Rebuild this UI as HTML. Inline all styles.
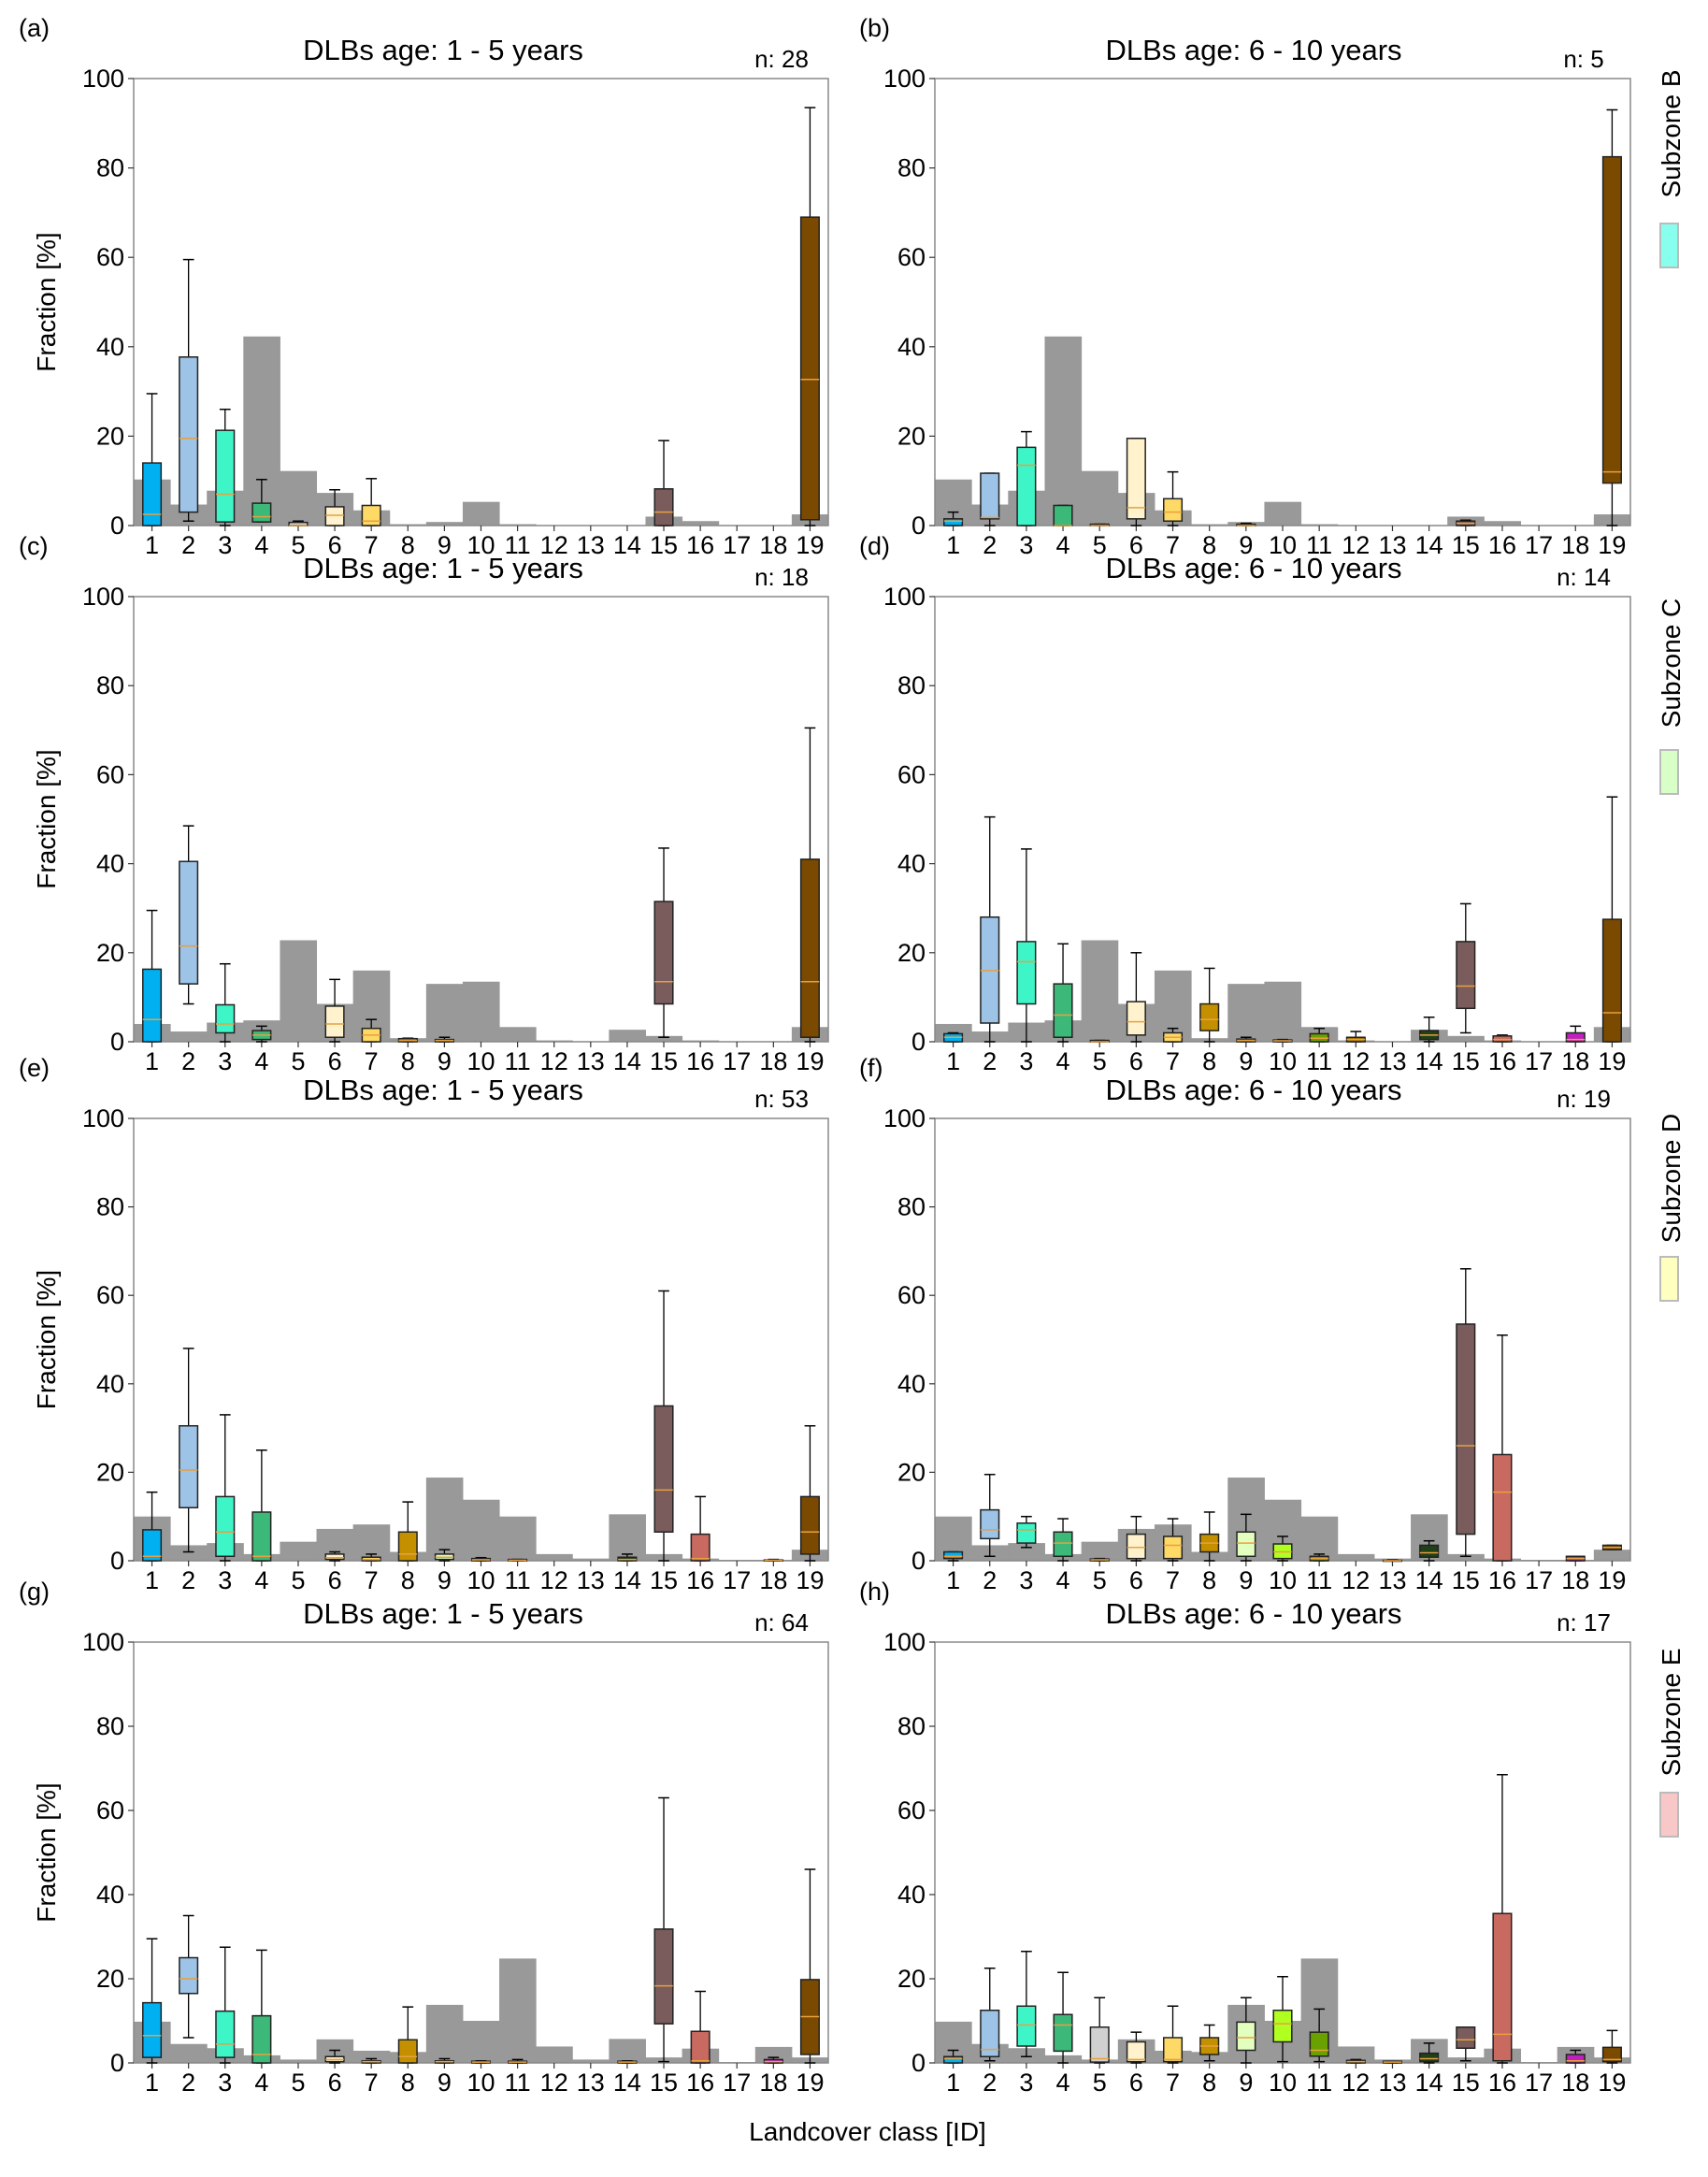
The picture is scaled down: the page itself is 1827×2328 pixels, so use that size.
<!DOCTYPE html>
<html><head><meta charset="utf-8">
<style>
html,body{margin:0;padding:0;background:#fff;}
svg text{font-family:"Liberation Sans",sans-serif;fill:#000;}
</style></head>
<body>
<svg id="fig" width="1827" height="2323" viewBox="0 0 1827 2323" xmlns="http://www.w3.org/2000/svg"></svg>
<script>
const classes=[1,2,3,4,5,6,7,8,9,10,11,12,13,14,15,16,17,18,19];
const yTicks=[0,20,40,60,80,100];
const classColors=["#00b0f0","#9dc3e6","#3ef5c8","#3cb878","#d0d0d0","#fff2cc","#ffd966","#c49000","#e2ffc0","#b0ff20","#6aa000","#a07000","#806040","#204018","#7a5c5c","#c86a60","#999999","#c020c0","#7a4a00"];
const greyB=[10.3,4.7,7.8,42.3,12.2,7.3,3.4,0.3,0.8,5.3,0.3,0.1,0.1,0.1,2,1,0.1,0.1,2.5];
const greyC=[4,2.3,4.3,4.8,22.8,8.5,16,0.8,13,13.5,3.3,0.3,0.1,2.7,1.3,0.3,0.1,0.1,3.3];
const greyD=[10,3.5,4,1.5,4.3,7.2,8.2,2,18.8,13.8,10,1.5,0.5,10.5,1.5,0.5,0.2,0.2,2.5];
const greyE=[9.8,4.5,3.5,1.8,0.8,5.6,2.9,2.6,13.8,10,24.8,3.9,0.8,5.7,1.3,3.4,0.2,3.8,1.3];
// [class, q1, median, q3, whiskerLow, whiskerHigh]
const boxesA=[[1,0,2.5,14,0,29.5],[2,3,19.5,37.7,1,59.5],[3,0.8,7,21.3,0,26],[4,0.8,2,5,0.8,10.3],[5,0,0,0.7,0,1],[6,0,2.3,4.2,0,8],[7,0,1,4.5,0,10.5],[15,0,3,8.2,0,19],[19,1.3,32.7,69,0,93.5]];
const boxesB=[[1,0,1,1.5,0,3],[2,1.5,1.8,11.7,0,11.7],[3,0,13.5,17.5,0,21],[4,0,0,4.5,0,4.5],[5,0,0,0.3,0,0.3],[6,1.5,4,19.5,0,19.5],[7,1,3,6,0,12],[9,0,0,0.3,0,0.5],[15,0,0.5,1,0,1.2],[19,9.5,12,82.5,0,93]];
const boxesC=[[1,0,5,16.3,0,29.5],[2,13,21.5,40.5,8.5,48.5],[3,2,4,8.3,0,17.5],[4,0.5,1.5,2.5,0,3.5],[6,1,4,8,0,14],[7,0,1.5,3,0,5],[8,0,0.3,0.7,0,0.8],[9,0,0.3,0.5,0,1],[15,8.5,13.5,31.5,1,43.5],[19,1,13.5,41,0,70.5]];
const boxesD=[[1,0,1,1.8,0,2],[2,4.2,16,28,0,50.5],[3,8.5,18,22.5,0,43.3],[4,1,6,13,0,22],[5,0,0,0.3,0,0.3],[6,1.5,4.5,9,0,20],[7,0,1,2,0,3],[8,2.5,5,8.5,0,16.5],[9,0,0.3,0.6,0,1],[10,0,0.2,0.4,0,0.5],[11,0,0.8,1.8,0,3],[12,0,0.5,1,0,2.3],[14,0.5,1.5,2.5,0,5.5],[15,7.5,12.5,22.5,2,31],[16,0,0.5,1.3,0,1.5],[18,0,0.5,2,0,3.5],[19,0,6.5,27.5,0,55]];
const boxesE=[[1,0,1,7,0,15.5],[2,12,20.5,30.5,2,48],[3,1,6.5,14.5,0,33],[4,0,1,11,0,25],[6,0.3,0.7,1.5,0,2],[7,0,0.3,0.8,0,1.5],[8,0,1.5,6.5,0,13.3],[9,0.3,0.8,1.5,0,2.5],[10,0,0.2,0.5,0,0.7],[11,0,0.1,0.3,0,0.3],[14,0,0.3,0.8,0,1.5],[15,6.5,16,35,0,61],[16,0,0.5,6,0,14.5],[18,0,0.1,0.2,0,0.3],[19,1.5,6.5,14.5,0,30.5]];
const boxesF=[[1,0.5,1,2,0,2],[2,5,7,11.5,1,19.5],[3,4,7,8.5,3,10],[4,1,4,6.5,0,9.5],[5,0,0.2,0.4,0,0.5],[6,0.5,3,6,0,10],[7,0.5,3.5,5.5,0,9.5],[8,2,4,6,0,11],[9,1,4,6.5,0,10.5],[10,0.5,2,3.8,0,5.5],[11,0,0.5,1,0,1.5],[13,0,0,0.1,0,0.2],[14,0.8,1.8,3.5,0,4.5],[15,6,26,53.5,1,66],[16,0,15.5,24,0,51],[18,0,0.5,1,0,1],[19,2.5,3,3.5,2.5,3.5]];
const boxesG=[[1,1.3,6.5,14.3,0,29.5],[2,16.5,20,25,6,35],[3,1.3,4.5,12.3,0,27.5],[4,0,2,11.2,0,26.8],[6,0.3,0.8,1.5,0,3],[7,0,0.3,0.5,0,1],[8,0,1.5,5.5,0,13.3],[9,0,0.3,0.5,0,1],[10,0,0.2,0.4,0,0.5],[11,0,0.2,0.4,0,0.8],[14,0,0.2,0.4,0,0.5],[15,9.3,18.3,31.8,0.3,63],[16,0,0.5,7.5,0,17],[18,0,0.3,0.8,0,1.3],[19,2,11,19.8,0,46]];
const boxesH=[[1,0,1,1.5,0,3],[2,1.5,3.2,12.5,0.5,22.5],[3,4,9,13.5,1.5,26.5],[4,2.8,9,11.5,0,21.5],[5,0.2,1,8.5,0,15.5],[6,0.3,0.8,5,0,7.3],[7,0.3,0.8,6,0,13.5],[8,2,4,6,0.5,9],[9,3,6,9.7,0,15.5],[10,5,9.3,12.5,0.3,20.5],[11,1.6,3,7.3,0.3,12.8],[12,0,0.3,0.6,0,0.8],[13,0,0.2,0.4,0,0.4],[14,0.3,1,2.3,0,4.7],[15,3.5,5.5,8.5,0.5,8.5],[16,0.5,6.8,35.5,0,68.5],[18,0,0.5,2,0,3],[19,0.3,0.8,3.7,0,7.7]];
const panelLetters=["(a)","(b)","(c)","(d)","(e)","(f)","(g)","(h)"];
const panelTitles=["DLBs age: 1 - 5 years","DLBs age: 6 - 10 years"];
const panelN=["n: 28","n: 5","n: 18","n: 14","n: 53","n: 19","n: 64","n: 17"];
const subzones=["Subzone B","Subzone C","Subzone D","Subzone E"];
const subzoneColors=["#88ffee","#d8ffc8","#ffffc0","#f8c8c8"];

const NS="http://www.w3.org/2000/svg";
const svg=document.getElementById('fig');
function mk(tag,attrs,parent){const e=document.createElementNS(NS,tag);for(const k in attrs)e.setAttribute(k,attrs[k]);(parent||svg).appendChild(e);return e;}

const greys=[greyB,greyC,greyD,greyE];
const boxes=[boxesA,boxesB,boxesC,boxesD,boxesE,boxesF,boxesG,boxesH];
const rowTop=[84,638,1196,1756], rowBot=[562,1114,1669,2206];
const colL=[143,1000], colR=[886,1744];
const titleX=[474,1341];

for(let p=0;p<8;p++){
  const r=Math.floor(p/2), c=p%2;
  const L=colL[c],R=colR[c],T=rowTop[r],B=rowBot[r];
  const g=mk('g',{});
  
  
  const xs=v=>L+(v-0.5)*(R-L)/19;
  const ys=v=>B-v*(B-T)/100;
  const cw=(R-L)/19;
  greys[r].forEach((v,i)=>{
    const rect=mk('rect',{x:xs(classes[i]-0.5),y:ys(v),width:cw+0.5,height:B-ys(v),fill:'#999999'},g);
    
    
  });
  const fr=mk('rect',{x:L,y:T,width:R-L,height:B-T,fill:'none',stroke:'#888',"stroke-width":1.5},g);
  
  
  yTicks.forEach(t=>{
    mk('line',{x1:L-6,x2:L,y1:ys(t),y2:ys(t),stroke:'#333',"stroke-width":1.2},g);
    const tx=mk('text',{x:L-10,y:ys(t)+9,"text-anchor":"end","font-size":27},g);
    tx.textContent=t;
    
    
  });
  classes.forEach(k=>{
    mk('line',{x1:xs(k),x2:xs(k),y1:B,y2:B+6,stroke:'#333',"stroke-width":1.2},g);
    const tx=mk('text',{x:xs(k),y:B+30,"text-anchor":"middle","font-size":27},g);
    tx.textContent=k;
    
    
  });
  boxes[p].forEach(b=>{
    const [k,q1,med,q3,lo,hi]=b;
    const cx=xs(k),bw=cw*0.5,cap=cw*0.3;
    const bg=mk('g',{},g);
    
    
    mk('line',{x1:cx,x2:cx,y1:ys(hi),y2:ys(q3),stroke:'#000',"stroke-width":1.3},bg);
    mk('line',{x1:cx,x2:cx,y1:ys(lo),y2:ys(q1),stroke:'#000',"stroke-width":1.3},bg);
    mk('line',{x1:cx-cap/2,x2:cx+cap/2,y1:ys(hi),y2:ys(hi),stroke:'#000',"stroke-width":1.5},bg);
    mk('line',{x1:cx-cap/2,x2:cx+cap/2,y1:ys(lo),y2:ys(lo),stroke:'#000',"stroke-width":1.5},bg);
    mk('rect',{x:cx-bw/2,y:ys(q3),width:bw,height:Math.max(ys(q1)-ys(q3),1),fill:classColors[k-1],stroke:'#222',"stroke-width":1.5},bg);
    mk('line',{x1:cx-bw/2,x2:cx+bw/2,y1:ys(med),y2:ys(med),stroke:'#e8a040',"stroke-width":1.5},bg);
  });
  const tt=mk('text',{x:titleX[c],y:T-20,"text-anchor":"middle","font-size":31},g);
  tt.textContent=panelTitles[c];
  
  
  const nt=mk('text',{x:R-50,y:T-12,"text-anchor":"middle","font-size":26},g);
  nt.textContent=panelN[p];
  
  
  const lt=mk('text',{x:c?919:20,y:T-45,"font-size":27},g);
  lt.textContent=panelLetters[p];
  
  
  if(c===0){
    const yl=mk('text',{x:0,y:0,"text-anchor":"middle","font-size":28,transform:`translate(59,${(T+B)/2}) rotate(-90)`},g);
    yl.textContent='Fraction [%]';
    
    
  }
}
const szLabelY=[143,709,1260,1831], szBoxY=[239,802,1344,1917];
subzones.forEach((s,i)=>{
  const t=mk('text',{x:0,y:0,"text-anchor":"middle","font-size":28,transform:`translate(1797,${szLabelY[i]}) rotate(-90)`});
  t.textContent=s;
  
  
  const rc=mk('rect',{x:1776,y:szBoxY[i],width:19,height:47,fill:subzoneColors[i],stroke:'#bbb',"stroke-width":2});
  
  
});
const xl=mk('text',{x:928,y:2289,"text-anchor":"middle","font-size":28});
xl.textContent='Landcover class [ID]';


</script>
</body></html>
